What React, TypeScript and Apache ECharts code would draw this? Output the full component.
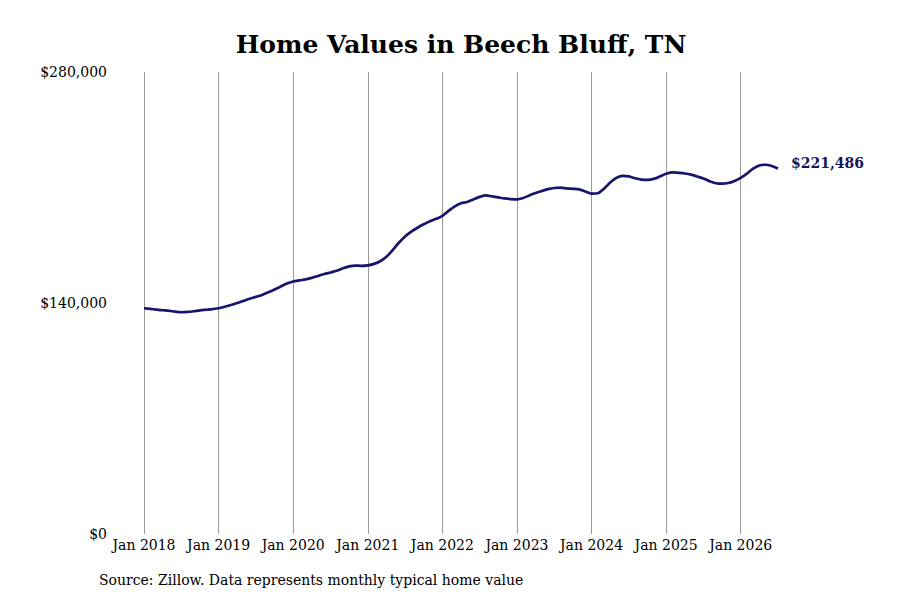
import React, { useEffect, useRef } from "react";
import * as echarts from "echarts";

const titleText = "Home Values in Beech Bluff, TN";
const sourceText = "Source: Zillow. Data represents monthly typical home value";
const startYear = 2018;
const values: number[] = [
  136800, 136400, 136000, 135600, 135300, 134800, 134400, 134600, 135000, 135500, 135900, 136300,
  136800, 137700, 138800, 140000, 141300, 142600, 143700, 144900, 146500, 148200, 150000, 151800,
  153000, 153700, 154300, 155200, 156400, 157600, 158500, 159500, 161000, 162200, 162700, 162500,
  162800, 163700, 165300, 168000, 172000, 176500, 180300, 183200, 185600, 187700, 189600, 191000,
  192800, 195800, 198600, 200500, 201200, 202800, 204300, 205200, 204600, 204000, 203400, 203000,
  202800, 203600, 205200, 206700, 207900, 209000, 209700, 209900, 209500, 209200, 208900, 207600,
  206300, 206500, 209300, 213000, 215800, 217000, 216700, 215600, 214800, 214600, 215200, 216700,
  218300, 219200, 218900, 218500, 217800, 216700, 215500, 213800, 212600, 212300, 212700, 214000,
  215800, 218400, 221400, 223300, 223800, 223000, 221486,
];
const monthNames = ["Jan", "Feb", "Mar", "Apr", "May", "Jun", "Jul", "Aug", "Sep", "Oct", "Nov", "Dec"];
const categories: string[] = values.map(
  (_, i) => `${monthNames[i % 12]} ${startYear + Math.floor(i / 12)}`
);
const yTicks = { min: 0, max: 280000, interval: 140000 };

const fmt = (v: number) => "$" + Math.round(v).toLocaleString("en-US");

export default function App() {
  const ref = useRef<HTMLDivElement>(null);
  useEffect(() => {
    if (!ref.current) return;
    const chart = echarts.init(ref.current, null, { renderer: "svg" });
    const isJan = (i: number) => i % 12 === 0;
    chart.setOption({
      animation: false,
      backgroundColor: "#ffffff",
      title: {
        text: titleText,
        left: 456,
        top: 27,
        textAlign: "center",
        textStyle: {
          fontFamily: "DejaVu Serif",
          fontWeight: "bold",
          fontSize: 25,
          color: "#000",
        },
      },
      graphic: [
        {
          type: "text",
          left: 99,
          top: 573,
          style: {
            text: sourceText,
            font: "14px 'DejaVu Serif'",
            fill: "#000",
          },
        },
      ],
      grid: { left: 144, right: 122, top: 72, bottom: 66 },
      xAxis: {
        type: "category",
        data: categories,
        boundaryGap: false,
        axisLine: { show: false },
        axisTick: { show: false },
        axisLabel: {
          interval: (i: number) => isJan(i),
          fontFamily: "DejaVu Serif",
          fontSize: 14,
          color: "#000",
          margin: 4,
        },
        splitLine: {
          show: true,
          interval: (i: number) => isJan(i),
          lineStyle: { color: "#999", width: 1 },
        },
      },
      yAxis: {
        type: "value",
        min: yTicks.min,
        max: yTicks.max,
        interval: yTicks.interval,
        axisLine: { show: false },
        axisTick: { show: false },
        splitLine: { show: false },
        axisLabel: {
          formatter: (v: number) => fmt(v),
          fontFamily: "DejaVu Serif",
          fontSize: 14,
          color: "#000",
          margin: 37,
          verticalAlign: "middle",
        },
      },
      series: [
        {
          type: "line",
          data: values,
          smooth: 0.3,
          symbol: "none",
          lineStyle: { color: "#17146b", width: 2.7 },
          endLabel: {
            show: true,
            formatter: (p: any) => fmt(p.value),
            fontFamily: "DejaVu Serif",
            fontWeight: "bold",
            fontSize: 14,
            color: "#17145e",
            offset: [5, -6],
          },
        },
      ],
    });
    return () => chart.dispose();
  }, []);
  return (
    <div
      ref={ref}
      style={{ position: "absolute", left: 0, top: 0, width: 900, height: 600 }}
    />
  );
}
